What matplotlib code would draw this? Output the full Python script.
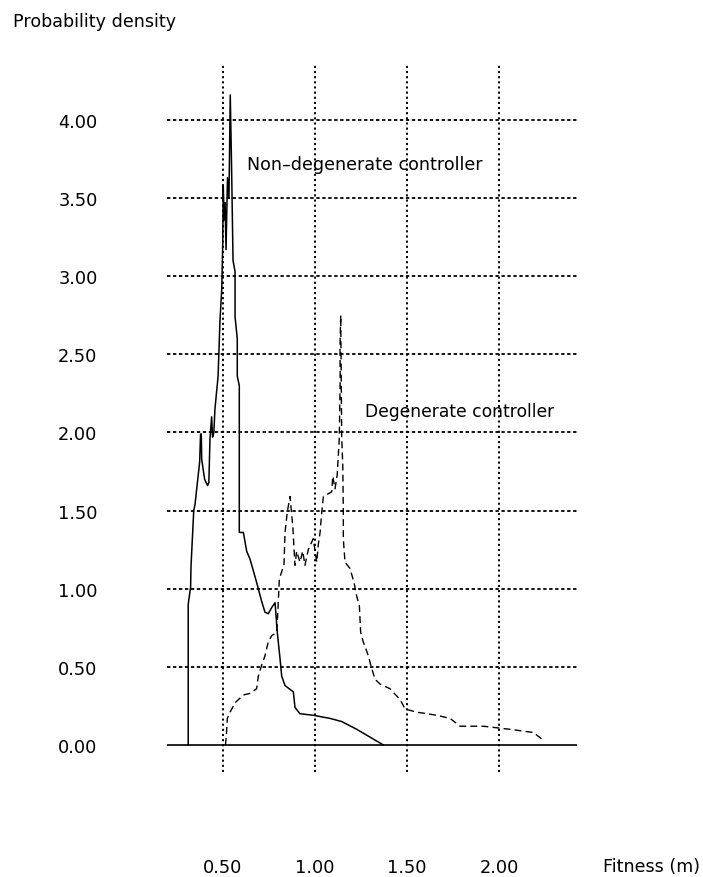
import matplotlib
matplotlib.use('Agg')
import matplotlib.pyplot as plt

plt.rcParams['lines.scale_dashes'] = False

# non-degenerate controller (solid)
nondeg_x = [0.313, 0.313, 0.326, 0.328, 0.343, 0.350, 0.361, 0.375, 0.380, 0.384,
            0.386, 0.402, 0.418, 0.425, 0.431, 0.440, 0.445, 0.452, 0.458, 0.475,
            0.485, 0.495, 0.500, 0.503, 0.508, 0.513, 0.518, 0.526, 0.534, 0.541,
            0.548, 0.556, 0.567, 0.567, 0.579, 0.579, 0.590, 0.590, 0.612, 0.630,
            0.648, 0.684, 0.711, 0.729, 0.747, 0.766, 0.784, 0.796, 0.811, 0.820,
            0.838, 0.883, 0.892, 0.919, 0.991, 1.082, 1.145, 1.227, 1.371]
nondeg_y = [0.00, 0.90, 1.01, 1.14, 1.50, 1.54, 1.66, 1.81, 1.99, 1.99,
            1.83, 1.70, 1.66, 1.68, 1.96, 2.10, 1.97, 2.00, 2.15, 2.36,
            2.71, 2.92, 3.20, 3.58, 3.36, 3.47, 3.17, 3.63, 3.50, 4.16,
            3.71, 3.10, 3.03, 2.74, 2.60, 2.36, 2.30, 1.36, 1.36, 1.24,
            1.19, 1.04, 0.92, 0.85, 0.84, 0.88, 0.91, 0.72, 0.55, 0.44,
            0.38, 0.34, 0.24, 0.20, 0.19, 0.17, 0.15, 0.10, 0.00]

# degenerate controller (dashed)
deg_x = [0.515, 0.520, 0.525, 0.540, 0.567, 0.612, 0.648, 0.684, 0.693, 0.711,
         0.729, 0.747, 0.766, 0.793, 0.802, 0.807, 0.820, 0.832, 0.838, 0.850,
         0.865, 0.880, 0.887, 0.892, 0.901, 0.919, 0.934, 0.946, 0.964, 0.991,
         1.001, 1.010, 1.018, 1.028, 1.037, 1.046, 1.091, 1.097, 1.109, 1.121,
         1.132, 1.137, 1.136, 1.140, 1.145, 1.151, 1.154, 1.154, 1.163, 1.190,
         1.212, 1.227, 1.241, 1.248, 1.262, 1.290, 1.303, 1.326, 1.353, 1.407,
         1.462, 1.489, 1.552, 1.661, 1.733, 1.787, 1.913, 2.058, 2.184, 2.239]
deg_y = [0.00, 0.06, 0.17, 0.21, 0.27, 0.32, 0.33, 0.36, 0.44, 0.51,
         0.57, 0.66, 0.70, 0.72, 0.93, 1.06, 1.11, 1.15, 1.36, 1.49,
         1.59, 1.40, 1.25, 1.15, 1.24, 1.17, 1.24, 1.15, 1.25, 1.32,
         1.24, 1.17, 1.28, 1.36, 1.49, 1.59, 1.62, 1.72, 1.64, 1.73,
         1.96, 2.34, 2.55, 2.75, 1.98, 1.79, 1.49, 1.32, 1.17, 1.13,
         1.04, 0.95, 0.89, 0.72, 0.66, 0.57, 0.51, 0.42, 0.39, 0.36,
         0.29, 0.23, 0.21, 0.19, 0.17, 0.12, 0.12, 0.10, 0.08, 0.03]

xticks = [0.5, 1.0, 1.5, 2.0]
xtick_labels = ['0.50', '1.00', '1.50', '2.00']
yticks = [0.0, 0.5, 1.0, 1.5, 2.0, 2.5, 3.0, 3.5, 4.0]
ytick_labels = ['%.2f' % v for v in yticks]

W, H = 703, 878
fig = plt.figure(figsize=(W / 100, H / 100), dpi=100)
ax = fig.add_axes([167 / W, (H - 773) / H, (577 - 167) / W, (773 - 65) / H])
ax.set_xlim(0.198, 2.421)
ax.set_ylim(-0.173, 4.358)
for s in ax.spines.values():
    s.set_visible(False)

# grid
for v in yticks[1:]:
    ax.axhline(v, color='black', lw=1.3, ls=(0, (2.4, 1.9)), zorder=1)
for v in xticks:
    ax.axvline(v, color='black', lw=1.4, ls=(0, (1.5, 2.2)), zorder=1)
ax.axhline(0, color='black', lw=1.2, zorder=2)

ax.plot(nondeg_x, nondeg_y, color='black', lw=1.1, zorder=3)
ax.plot(deg_x, deg_y, color='black', lw=1.0, ls=(0, (5, 3)), zorder=3)

ax.text(0.630, 3.72, 'Non–degenerate controller', fontsize=12.6, va='center')
ax.text(1.272, 2.14, 'Degenerate controller', fontsize=12.3, va='center')

ax.set_xticks(xticks, xtick_labels)
ax.set_yticks(yticks, ytick_labels)
ax.tick_params(axis='x', length=0, pad=62, labelsize=12.8)
ax.tick_params(axis='y', length=0, pad=50, labelsize=12.8)

fig.text(13 / W, 1 - 22 / H, 'Probability density', fontsize=12.6, va='center')
fig.text(603 / W, 1 - 867 / H, 'Fitness (m)', fontsize=12.6, va='center')

fig.savefig('out.png', dpi=100)
